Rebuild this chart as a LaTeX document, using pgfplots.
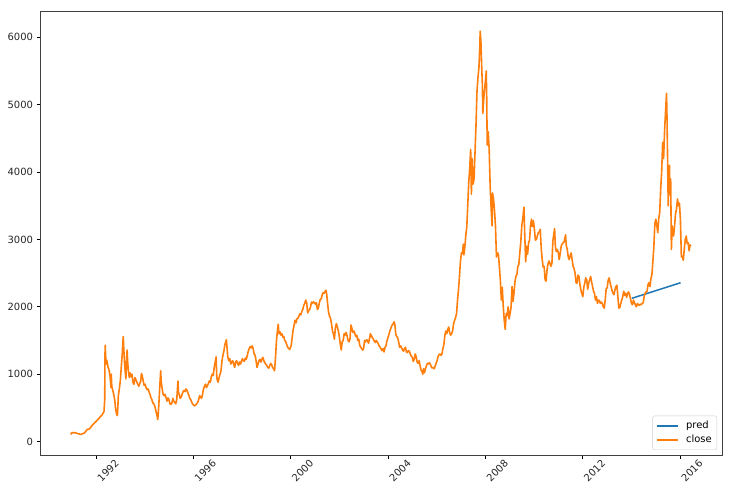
\documentclass[border=0pt]{standalone}
\usepackage{pgfplots}
\pgfplotsset{compat=1.18}
\usepackage{fontspec}
\setmainfont{DejaVu Sans}
\definecolor{mplblue}{HTML}{1F77B4}
\definecolor{mplorange}{HTML}{FF7F0E}
\begin{document}
\begin{tikzpicture}
\path[use as bounding box] (0,0) rectangle (734bp,504bp);
\begin{axis}[
  at={(40bp,49bp)}, anchor=south west,
  scale only axis, width=682bp, height=444bp,
  xmin=1989.70, xmax=2017.73,
  ymin=-200, ymax=6390,
  xtick={1992,1996,2000,2004,2008,2012,2016},
  xticklabels={1992,1996,2000,2004,2008,2012,2016},
  ytick={0,1000,2000,3000,4000,5000,6000},
  /pgf/number format/set thousands separator={},
  /pgf/number format/assume math mode=true,
  tick align=outside, tick pos=left,
  major tick length=3.5bp,
  tick style={black, line width=0.8bp},
  axis line style={black!75, line width=0.8bp},
  tick label style={font=\fontsize{10}{12}\selectfont, text=black!85},
  x tick label style={rotate=45, anchor=center, yshift=-17bp},
]
\addplot[mplblue, line width=1.5bp] coordinates {(2014.02,2125) (2016.03,2357)};
\addplot[mplorange, line width=1.6bp, line join=round] table {
1990.97 105
1991.00 127
1991.04 131
1991.08 129
1991.13 133
1991.17 128
1991.21 122
1991.25 118
1991.29 114
1991.33 110
1991.38 105
1991.42 112
1991.46 118
1991.50 122
1991.54 134
1991.58 150
1991.63 175
1991.67 182
1991.71 185
1991.75 195
1991.79 215
1991.83 232
1991.88 255
1991.92 268
1991.96 285
1992.00 295
1992.04 310
1992.08 330
1992.13 345
1992.17 365
1992.21 380
1992.25 395
1992.29 420
1992.33 445
1992.36 617
1992.37 1266
1992.38 1429
1992.40 1260
1992.42 1150
1992.44 1210
1992.46 1180
1992.50 1100
1992.54 1060
1992.58 960
1992.62 800
1992.63 1000
1992.65 820
1992.69 760
1992.73 700
1992.77 620
1992.81 480
1992.85 400
1992.88 386
1992.90 520
1992.92 680
1992.96 780
1993.00 900
1993.04 1100
1993.08 1300
1993.12 1558
1993.14 1400
1993.17 1200
1993.20 1050
1993.23 930
1993.25 1150
1993.28 1358
1993.30 1200
1993.33 1050
1993.37 950
1993.40 1020
1993.44 960
1993.48 1000
1993.52 880
1993.56 850
1993.60 950
1993.64 920
1993.68 880
1993.72 850
1993.76 820
1993.80 860
1993.84 900
1993.87 1010
1993.90 980
1993.94 900
1993.98 833
1994.02 850
1994.06 800
1994.10 770
1994.14 780
1994.18 740
1994.22 700
1994.26 650
1994.30 620
1994.34 570
1994.38 560
1994.42 520
1994.46 460
1994.50 400
1994.54 325
1994.58 520
1994.62 800
1994.66 1052
1994.68 900
1994.72 780
1994.76 700
1994.80 680
1994.84 700
1994.88 650
1994.92 600
1994.96 647
1995.00 620
1995.04 560
1995.08 550
1995.12 570
1995.16 640
1995.20 600
1995.24 580
1995.28 560
1995.32 620
1995.37 897
1995.39 730
1995.42 700
1995.46 640
1995.50 660
1995.54 700
1995.58 740
1995.62 760
1995.66 740
1995.70 780
1995.74 760
1995.78 720
1995.82 680
1995.86 640
1995.90 620
1995.94 580
1995.98 555
1996.02 537
1996.06 530
1996.10 545
1996.14 560
1996.18 580
1996.22 620
1996.26 680
1996.30 660
1996.34 640
1996.38 700
1996.42 780
1996.46 820
1996.50 850
1996.54 800
1996.58 830
1996.62 860
1996.66 900
1996.70 880
1996.74 960
1996.78 1000
1996.82 980
1996.86 1100
1996.90 1180
1996.94 1258
1996.96 1000
1996.98 917
1997.02 880
1997.06 950
1997.10 1000
1997.14 1050
1997.18 1200
1997.22 1280
1997.26 1350
1997.30 1440
1997.36 1510
1997.39 1380
1997.42 1250
1997.46 1200
1997.50 1230
1997.54 1150
1997.58 1180
1997.62 1200
1997.66 1150
1997.70 1100
1997.74 1180
1997.78 1200
1997.82 1160
1997.86 1130
1997.90 1180
1997.94 1150
1997.98 1194
1998.02 1230
1998.06 1200
1998.10 1190
1998.14 1240
1998.18 1220
1998.22 1280
1998.26 1340
1998.30 1380
1998.34 1410
1998.38 1390
1998.42 1420
1998.46 1380
1998.50 1300
1998.54 1280
1998.58 1200
1998.62 1100
1998.66 1150
1998.70 1200
1998.74 1220
1998.78 1180
1998.82 1220
1998.86 1250
1998.90 1200
1998.94 1170
1998.98 1147
1999.02 1130
1999.06 1100
1999.10 1090
1999.14 1120
1999.18 1160
1999.22 1140
1999.26 1100
1999.30 1080
1999.34 1050
1999.38 1250
1999.42 1500
1999.46 1650
1999.49 1740
1999.52 1600
1999.56 1630
1999.60 1580
1999.64 1600
1999.68 1550
1999.72 1560
1999.76 1500
1999.80 1480
1999.84 1440
1999.88 1400
1999.92 1380
1999.96 1367
2000.02 1420
2000.06 1530
2000.10 1650
2000.14 1720
2000.18 1800
2000.22 1760
2000.26 1820
2000.30 1830
2000.34 1860
2000.38 1895
2000.42 1880
2000.46 1930
2000.50 1960
2000.54 2020
2000.58 2050
2000.62 2100
2000.66 2060
2000.70 1910
2000.74 1940
2000.78 1960
2000.82 2000
2000.86 2070
2000.90 2050
2000.94 2073
2000.98 2060
2001.02 2040
2001.06 2060
2001.10 1960
2001.14 1980
2001.18 2060
2001.22 2110
2001.26 2120
2001.30 2180
2001.34 2210
2001.38 2200
2001.42 2230
2001.45 2245
2001.48 2200
2001.52 2050
2001.56 1920
2001.60 1860
2001.64 1830
2001.68 1750
2001.72 1640
2001.76 1600
2001.80 1520
2001.84 1690
2001.88 1750
2001.92 1700
2001.96 1646
2002.00 1560
2002.04 1450
2002.08 1358
2002.12 1480
2002.16 1500
2002.20 1600
2002.24 1580
2002.28 1620
2002.32 1570
2002.36 1500
2002.40 1480
2002.44 1520
2002.48 1730
2002.52 1680
2002.56 1620
2002.60 1640
2002.64 1600
2002.68 1560
2002.72 1580
2002.76 1500
2002.80 1520
2002.84 1430
2002.88 1400
2002.92 1380
2002.96 1357
2003.00 1380
2003.04 1500
2003.08 1480
2003.12 1510
2003.16 1500
2003.20 1460
2003.24 1520
2003.28 1600
2003.32 1570
2003.36 1540
2003.40 1520
2003.44 1490
2003.48 1470
2003.52 1500
2003.56 1480
2003.60 1450
2003.64 1420
2003.68 1400
2003.72 1370
2003.76 1350
2003.80 1380
2003.84 1330
2003.88 1400
2003.92 1420
2003.96 1497
2004.00 1540
2004.04 1590
2004.08 1640
2004.12 1680
2004.16 1720
2004.20 1740
2004.26 1777
2004.29 1720
2004.32 1600
2004.36 1560
2004.40 1540
2004.44 1480
2004.48 1400
2004.52 1420
2004.56 1390
2004.60 1360
2004.64 1340
2004.68 1380
2004.72 1400
2004.76 1330
2004.80 1320
2004.84 1350
2004.88 1340
2004.92 1300
2004.96 1266
2005.00 1250
2005.04 1190
2005.08 1220
2005.12 1300
2005.16 1260
2005.20 1180
2005.24 1160
2005.28 1200
2005.32 1130
2005.36 1060
2005.40 1040
2005.43 998
2005.46 1080
2005.50 1020
2005.54 1080
2005.58 1120
2005.62 1160
2005.66 1150
2005.70 1170
2005.74 1150
2005.78 1110
2005.82 1090
2005.86 1100
2005.90 1080
2005.94 1120
2005.98 1161
2006.02 1200
2006.06 1260
2006.10 1290
2006.14 1300
2006.18 1280
2006.22 1300
2006.26 1380
2006.30 1440
2006.34 1580
2006.38 1640
2006.42 1600
2006.46 1670
2006.50 1700
2006.54 1610
2006.58 1580
2006.62 1600
2006.66 1650
2006.70 1750
2006.74 1800
2006.78 1840
2006.82 1900
2006.86 2100
2006.90 2250
2006.94 2450
2006.98 2675
2007.02 2800
2007.06 2790
2007.10 2930
2007.12 2770
2007.16 2880
2007.20 3060
2007.24 3180
2007.28 3500
2007.32 3840
2007.36 4050
2007.40 4335
2007.43 3670
2007.46 4200
2007.50 3820
2007.54 3900
2007.58 4300
2007.62 4700
2007.66 5200
2007.70 5400
2007.74 5550
2007.78 5900
2007.79 6092
2007.82 5950
2007.86 5500
2007.88 5300
2007.90 4870
2007.94 5100
2007.98 5260
2008.02 5400
2008.04 5500
2008.06 5100
2008.08 4400
2008.12 4600
2008.16 4350
2008.20 3800
2008.24 3470
2008.28 3200
2008.30 3690
2008.34 3600
2008.38 3430
2008.42 3200
2008.46 2740
2008.50 2800
2008.54 2780
2008.58 2600
2008.62 2400
2008.66 2100
2008.70 2290
2008.74 2000
2008.78 1800
2008.82 1664
2008.86 1900
2008.90 1870
2008.94 2000
2008.98 1820
2009.02 1900
2009.06 1990
2009.10 2300
2009.14 2080
2009.18 2200
2009.22 2370
2009.26 2450
2009.30 2480
2009.34 2600
2009.38 2630
2009.42 2800
2009.46 2960
2009.50 3200
2009.54 3300
2009.59 3478
2009.62 3100
2009.66 2667
2009.70 2900
2009.74 2780
2009.78 2950
2009.82 2990
2009.86 3200
2009.90 3300
2009.94 3190
2009.98 3277
2010.02 3150
2010.06 2990
2010.10 3000
2010.14 3050
2010.18 3100
2010.22 3110
2010.26 3150
2010.30 2870
2010.34 2700
2010.38 2590
2010.42 2600
2010.46 2400
2010.50 2380
2010.54 2550
2010.58 2640
2010.62 2680
2010.66 2640
2010.70 2600
2010.74 2650
2010.78 2980
2010.85 3160
2010.88 2900
2010.92 2820
2010.96 2850
2011.00 2808
2011.04 2700
2011.08 2790
2011.12 2900
2011.16 2930
2011.20 2950
2011.24 2960
2011.30 3067
2011.33 2910
2011.37 2850
2011.41 2740
2011.45 2700
2011.49 2760
2011.53 2800
2011.57 2700
2011.61 2600
2011.65 2570
2011.69 2500
2011.73 2360
2011.77 2350
2011.81 2470
2011.85 2450
2011.89 2330
2011.93 2250
2011.97 2199
2012.01 2150
2012.05 2290
2012.09 2350
2012.13 2430
2012.17 2400
2012.21 2260
2012.25 2350
2012.29 2400
2012.33 2450
2012.37 2370
2012.41 2300
2012.45 2230
2012.49 2200
2012.53 2100
2012.57 2150
2012.61 2050
2012.65 2100
2012.69 2090
2012.73 2050
2012.77 2070
2012.81 2050
2012.85 2000
2012.89 1980
2012.93 2100
2012.97 2270
2013.01 2280
2013.05 2390
2013.09 2430
2013.13 2360
2013.17 2300
2013.21 2240
2013.25 2200
2013.29 2180
2013.33 2250
2013.37 2300
2013.41 2320
2013.45 2150
2013.49 1980
2013.53 1990
2013.57 2050
2013.61 2100
2013.65 2150
2013.69 2230
2013.73 2170
2013.77 2200
2013.81 2140
2013.85 2200
2013.89 2220
2013.93 2180
2013.97 2116
2014.01 2050
2014.05 2030
2014.09 2100
2014.13 2060
2014.17 2030
2014.21 2000
2014.25 2050
2014.29 2030
2014.33 2020
2014.37 2040
2014.41 2030
2014.45 2050
2014.49 2060
2014.53 2150
2014.57 2200
2014.61 2220
2014.65 2230
2014.69 2330
2014.73 2360
2014.77 2300
2014.81 2420
2014.85 2480
2014.89 2680
2014.93 2900
2014.97 3235
2015.01 3300
2015.05 3210
2015.09 3100
2015.13 3310
2015.17 3400
2015.21 3750
2015.25 4000
2015.29 4440
2015.33 4200
2015.37 4610
2015.41 4900
2015.45 5166
2015.47 4800
2015.49 4280
2015.52 3500
2015.54 3900
2015.57 4100
2015.59 3660
2015.62 3900
2015.65 2850
2015.68 3200
2015.70 3100
2015.74 3050
2015.78 3200
2015.82 3380
2015.86 3450
2015.90 3600
2015.94 3500
2015.98 3539
2016.02 3300
2016.06 2740
2016.10 2750
2016.14 2690
2016.18 2860
2016.22 3000
2016.26 3050
2016.30 2938
2016.34 2950
2016.38 2830
2016.42 2917
2016.45 2900
};
\end{axis}
% legend box, lower right inside the axis
\node[draw=black!20, rounded corners=2bp, fill=white, anchor=south east,
  inner xsep=0pt, inner ysep=3bp, font=\fontsize{10}{12}\selectfont]
  at (717bp,54bp) {\renewcommand{\arraystretch}{1.1667}%
  \begin{tabular}{@{\hspace{3.5bp}}c@{\hspace{7bp}}l@{\hspace{5bp}}}
  \tikz[baseline=-0.55ex]\draw[mplblue, line width=2bp] (0,0) -- (21bp,0); & pred\\
  \tikz[baseline=-0.55ex]\draw[mplorange, line width=2bp] (0,0) -- (21bp,0); & close
  \end{tabular}};
\end{tikzpicture}
\end{document}
